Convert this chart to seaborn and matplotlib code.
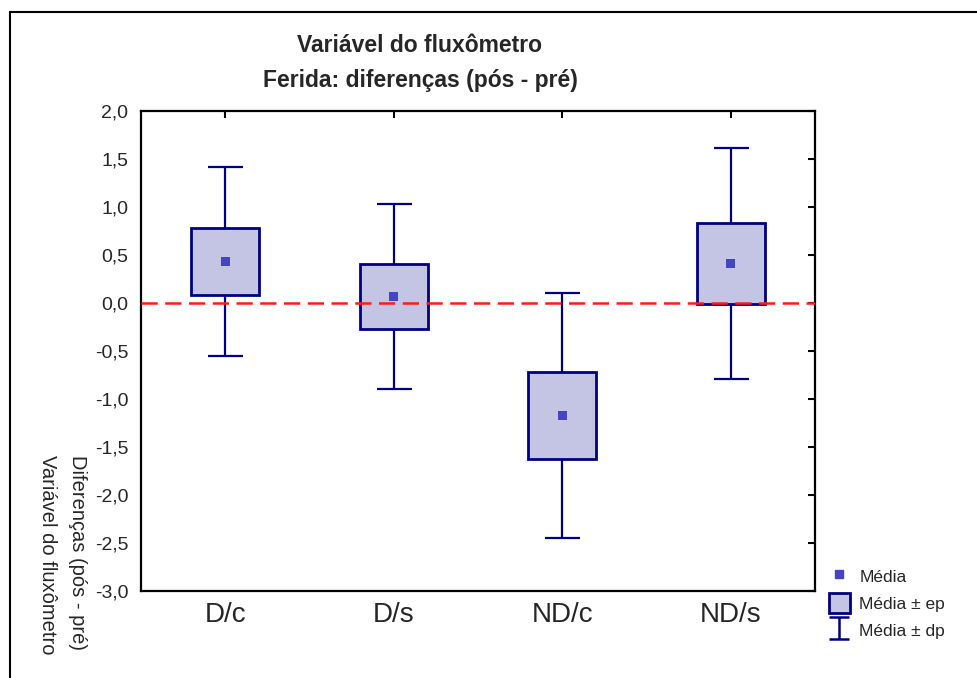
import numpy as np
import pandas as pd
import matplotlib
matplotlib.use("Agg")
import matplotlib.pyplot as plt
import seaborn as sns
from matplotlib.patches import Patch
from matplotlib.lines import Line2D
from matplotlib.path import Path

# ---- data ----
categories = ["D/c", "D/s", "ND/c", "ND/s"]
means = [0.43, 0.065, -1.17, 0.41]
se = [0.35, 0.34, 0.45, 0.42]
sd = [0.985, 0.965, 1.275, 1.20]
yticks = [-3.0, -2.5, -2.0, -1.5, -1.0, -0.5, 0.0, 0.5, 1.0, 1.5, 2.0]
ytick_labels = ["-3,0", "-2,5", "-2,0", "-1,5", "-1,0", "-0,5", "0,0", "0,5", "1,0", "1,5", "2,0"]
title_line1 = "Variável do fluxômetro"
title_line2 = "Ferida: diferenças (pós - pré)"
ylabel_line1 = "Diferenças (pós - pré)"
ylabel_line2 = "Variável do fluxômetro"
legend_labels = ["Média", "Média ± ep", "Média ± dp"]

sns.set_style("white")
plt.rcParams["font.family"] = ["Liberation Sans", "DejaVu Sans"]

W, H = 978, 678
fig = plt.figure(figsize=(W / 100, H / 100), dpi=100)
ax = fig.add_axes([141 / W, 1 - 591 / H, (815 - 141) / W, (591 - 111) / H])

df = pd.DataFrame({"cat": categories, "mean": means, "se": se, "sd": sd})
df["x"] = np.arange(len(categories))

navy = "#000080"
fill = "#c4c4e4"
mean_col = "#4444c4"

ax.errorbar(df["x"], df["mean"], yerr=df["sd"], fmt="none", ecolor=navy,
            elinewidth=1.6, capsize=12.6, capthick=1.6, zorder=1)
ax.bar(df["x"], 2 * df["se"], bottom=df["mean"] - df["se"], width=0.405,
       facecolor=fill, edgecolor=navy, linewidth=2.0, zorder=2)
sns.scatterplot(data=df, x="x", y="mean", marker="s", s=40, color=mean_col,
                edgecolor="none", zorder=3, ax=ax, legend=False)
ax.axhline(0, color="#ff1a1a", lw=1.8, ls=(0, (6.5, 3.0)), zorder=4)

ax.set_xlim(-0.5, 3.5)
ax.set_ylim(-3.0, 2.0)
ax.set_xticks(df["x"])
ax.set_xticklabels(categories, fontsize=20,
                   family=["Liberation Sans Narrow", "Liberation Sans", "DejaVu Sans"])
ax.set_yticks(yticks)
ax.set_yticklabels(ytick_labels, fontsize=14)
ax.set_xlabel("")
ax.set_ylabel("")
ax.tick_params(axis="both", direction="in", top=True, right=True, length=5,
               width=1.5, color="black")
ax.tick_params(axis="y", pad=9)
ax.tick_params(axis="x", pad=8)
for s in ax.spines.values():
    s.set_visible(True)
    s.set_color("black")
    s.set_linewidth(1.6)

# outer frame
fig.add_artist(Line2D([10 / W, 10 / W], [0, 1 - 12 / H], transform=fig.transFigure,
                      color="black", lw=1.5))
fig.add_artist(Line2D([10 / W, 1], [1 - 12 / H, 1 - 12 / H], transform=fig.transFigure,
                      color="black", lw=1.5))

# titles
fig.text(420 / W, 1 - 45 / H, title_line1, ha="center", va="center",
         fontsize=16.5, fontweight="bold")
fig.text(420 / W, 1 - 80 / H, title_line2, ha="center", va="center",
         fontsize=16.5, fontweight="bold")

# y label (two rotated lines)
fig.text(77 / W, 1 - 455 / H, ylabel_line1, rotation=270, ha="center", va="top",
         fontsize=14.5)
fig.text(47.5 / W, 1 - 455 / H, ylabel_line2, rotation=270, ha="center", va="top",
         fontsize=14.5)

# legend
ibar = Path([(-0.45, 0.5), (0.45, 0.5), (0, 0.5), (0, -0.5), (-0.45, -0.5), (0.45, -0.5)],
            [Path.MOVETO, Path.LINETO, Path.MOVETO, Path.LINETO, Path.MOVETO, Path.LINETO])
h_mean = Line2D([], [], marker="s", color=mean_col, linestyle="none", markersize=5.5)
h_box = Patch(facecolor=fill, edgecolor=navy, linewidth=2.0)
h_sd = Line2D([], [], marker=ibar, color=navy, markerfacecolor="none",
              markeredgecolor=navy, markeredgewidth=1.8, linestyle="none", markersize=16)
fig.legend(handles=[h_mean, h_box, h_sd], labels=legend_labels, loc="upper left",
           bbox_to_anchor=(829 / W, 1 - 566 / H), frameon=False, fontsize=12.5,
           handlelength=1.2, handleheight=1.35, handletextpad=0.55,
           labelspacing=0.45, borderpad=0, borderaxespad=0)

fig.savefig("out.png", dpi=100)
